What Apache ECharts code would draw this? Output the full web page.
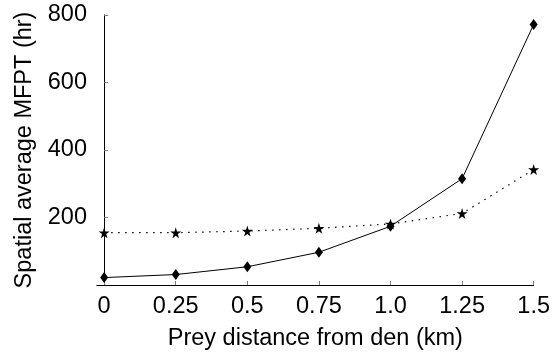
<!DOCTYPE html>
<html>
<head>
<meta charset="utf-8">
<script src="https://cdn.jsdelivr.net/npm/echarts@6/dist/echarts.min.js"></script>
<style>
html,body{margin:0;padding:0;background:#fff;}
#chart{width:553px;height:356px;}
</style>
</head>
<body>
<div id="chart"></div>
<script>
// Data
var distances = [0, 0.25, 0.5, 0.75, 1.0, 1.25, 1.5];
var xTickLabels = ['0', '0.25', '0.5', '0.75', '1.0', '1.25', '1.5'];
var solidSeries = [22, 31, 54, 97, 174, 315, 772];
var dottedSeries = [155, 155, 160, 168, 181, 212, 342];
var yTicks = [200, 400, 600, 800];

var FONT = 'Liberation Sans, Arial, sans-serif';
var FS = 23.5;
var STAR = 'path://M50,0 L61,35 L98,35 L68,57 L79,91 L50,70 L21,91 L32,57 L2,35 L39,35 Z';

function pairs(xs, ys) {
  return xs.map(function (x, i) { return [x, ys[i]]; });
}

var chart = echarts.init(document.getElementById('chart'), null, {renderer: 'canvas'});
chart.setOption({
  animation: false,
  backgroundColor: '#fff',
  grid: {left: 97, right: 19, top: 15, bottom: 70, containLabel: false},
  xAxis: [{
    type: 'value',
    min: -0.025,
    max: 1.5,
    name: 'Prey distance from den (km)',
    nameLocation: 'middle',
    nameGap: 42,
    nameTextStyle: {fontFamily: FONT, fontSize: FS, color: '#000'},
    axisLine: {show: true, lineStyle: {color: '#808080', width: 1}},
    axisTick: {show: true, inside: true, length: 4, customValues: distances, lineStyle: {color: '#808080'}},
    axisLabel: {
      show: true, margin: 10, fontFamily: FONT, fontSize: FS, color: '#000',
      customValues: distances,
      formatter: function (v) {
        var i = distances.indexOf(v);
        return i >= 0 ? xTickLabels[i] : '';
      }
    },
    splitLine: {show: false}
  }, {
    type: 'value', position: 'top', min: -0.025, max: 1.5,
    axisLine: {show: true, lineStyle: {color: '#000', width: 1}},
    axisTick: {show: false}, axisLabel: {show: false}, splitLine: {show: false}
  }],
  yAxis: [{
    type: 'value',
    min: 0,
    max: 800,
    interval: 200,
    name: 'Spatial average MFPT (hr)',
    nameLocation: 'middle',
    nameGap: 59,
    nameTextStyle: {fontFamily: FONT, fontSize: FS, color: '#000'},
    axisLine: {show: true, lineStyle: {color: '#808080', width: 1}},
    axisTick: {show: true, inside: true, length: 4, customValues: yTicks, lineStyle: {color: '#808080'}},
    axisLabel: {
      show: true, margin: 10, fontFamily: FONT, fontSize: FS, color: '#000',
      customValues: yTicks
    },
    splitLine: {show: false}
  }, {
    type: 'value', position: 'right', min: 0, max: 800,
    axisLine: {show: true, lineStyle: {color: '#000', width: 1}},
    axisTick: {show: false}, axisLabel: {show: false}, splitLine: {show: false}
  }],
  series: [{
    type: 'line',
    data: pairs(distances, solidSeries),
    symbol: 'diamond',
    symbolSize: [8, 11],
    itemStyle: {color: '#000'},
    lineStyle: {color: '#000', width: 1, type: 'solid'},
    clip: false,
    z: 3
  }, {
    type: 'line',
    data: pairs(distances, dottedSeries),
    symbol: STAR,
    symbolSize: 11,
    itemStyle: {color: '#000'},
    lineStyle: {color: '#000', width: 1.2, type: [1.5, 5.5]},
    clip: false,
    z: 2
  }]
});
</script>
</body>
</html>
